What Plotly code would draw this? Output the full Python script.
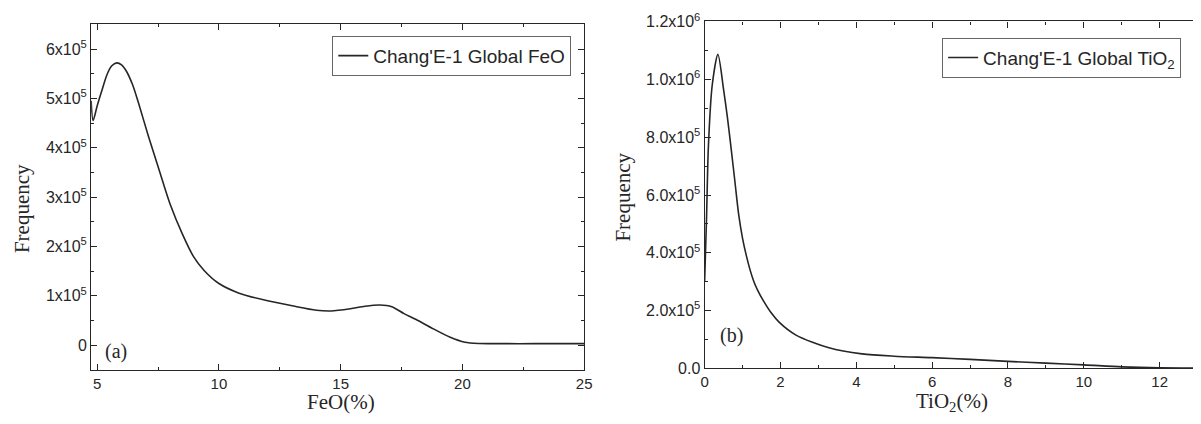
import plotly.graph_objects as go

# FeO abundance histogram (Chang'E-1 global)
feo_pct = [4.75, 4.83, 5.0, 5.23, 5.4, 5.6, 5.8, 6.0, 6.2, 6.45, 6.7, 7.1, 7.55, 8.0,
           8.5, 8.95, 9.4, 10.0, 10.8, 12.0, 13.0, 14.0, 14.6, 15.4, 16.0, 16.6,
           17.1, 17.6, 18.1, 18.7, 19.5, 20.1, 20.7, 21.5, 23.0, 25.0]
feo_freq = [495000, 455000, 485000, 522000, 548000, 566000, 572000, 568000, 555000,
            528000, 490000, 424000, 354000, 285000, 225000, 180000, 151000, 125000,
            106000, 90000, 80000, 71000, 69500, 74000, 79000, 81500, 78000, 64000,
            52000, 36000, 16000, 6000, 3500, 3200, 3200, 3200]

# TiO2 abundance histogram (Chang'E-1 global)
tio2_pct = [0.0, 0.05, 0.1, 0.2, 0.35, 0.5, 0.6, 0.7, 0.8, 0.9, 1.0, 1.1, 1.2, 1.3,
            1.4, 1.54, 1.75, 1.97, 2.41, 3.28, 4.15, 5.0, 6.0, 7.0, 8.0, 9.0, 10.0,
            11.0, 12.0, 12.9]
tio2_freq = [300000, 520000, 770000, 980000, 1087000, 965000, 870000, 760000, 645000,
             530000, 450000, 390000, 340000, 300000, 270000, 236000, 193000, 159000,
             115000, 71000, 50000, 42000, 37000, 31000, 24000, 18000, 12000, 5000,
             1500, 1000]

feo_yticks = [0, 100000, 200000, 300000, 400000, 500000, 600000]
feo_ylabels = ["0", "1x10<sup>5</sup>", "2x10<sup>5</sup>", "3x10<sup>5</sup>",
               "4x10<sup>5</sup>", "5x10<sup>5</sup>", "6x10<sup>5</sup>"]
tio2_yticks = [0, 200000, 400000, 600000, 800000, 1000000, 1200000]
tio2_ylabels = ["0.0", "2.0x10<sup>5</sup>", "4.0x10<sup>5</sup>", "6.0x10<sup>5</sup>",
                "8.0x10<sup>5</sup>", "1.0x10<sup>6</sup>", "1.2x10<sup>6</sup>"]

W, H = 1201, 424
INK = "#262626"
SANS = "Liberation Sans, Arial, sans-serif"
SERIF = "Liberation Serif, Times New Roman, serif"


def px(x):
    return x / W


def py(y):
    return 1 - y / H


fig = go.Figure()
fig.add_trace(go.Scatter(
    x=feo_pct, y=feo_freq, mode="lines", name="Chang'E-1 Global FeO",
    line=dict(color=INK, width=1.6, shape="spline", smoothing=0.8),
    xaxis="x", yaxis="y", legend="legend"))
fig.add_trace(go.Scatter(
    x=tio2_pct, y=tio2_freq, mode="lines", name="Chang'E-1 Global TiO<sub>2</sub>",
    line=dict(color=INK, width=1.6, shape="spline", smoothing=0.8),
    xaxis="x2", yaxis="y2", legend="legend2"))

axis_common = dict(showline=True, linecolor=INK, linewidth=1.2, ticks="inside",
                   tickcolor=INK, ticklen=6, tickwidth=1.2, showgrid=False,
                   zeroline=False)
xtick_font = dict(family=SANS, size=15, color=INK)
ytick_font = dict(family=SANS, size=16, color=INK)

fig.update_layout(
    width=W, height=H, margin=dict(l=0, r=0, t=0, b=0),
    paper_bgcolor="white", plot_bgcolor="white",
    xaxis=dict(domain=[px(88), px(586)], range=[4.75, 25], anchor="y",
               tickvals=[5, 10, 15, 20, 25], mirror="ticks", tickfont=xtick_font,
               minor=dict(ticks="inside", ticklen=3, tickcolor=INK,
                          tick0=5, dtick=2.5), **axis_common),
    yaxis=dict(domain=[py(376.7), py(14)], range=[-50000, 650000], anchor="x",
               tickmode="array", tickvals=feo_yticks, ticktext=feo_ylabels,
               mirror="ticks", tickfont=ytick_font,
               minor=dict(ticks="inside", ticklen=3, tickcolor=INK,
                          tick0=-50000, dtick=50000), **axis_common),
    xaxis2=dict(domain=[px(707.7), 1.0], range=[0, 12.88], anchor="y2",
                tickvals=[0, 2, 4, 6, 8, 10, 12], mirror="ticks", tickfont=xtick_font,
                minor=dict(ticks="inside", ticklen=3, tickcolor=INK,
                           tick0=0, dtick=1), **axis_common),
    yaxis2=dict(domain=[py(375), py(11)], range=[0, 1200800], anchor="x2",
                tickmode="array", tickvals=tio2_yticks, ticktext=tio2_ylabels,
                mirror=False, tickfont=ytick_font,
                minor=dict(ticks="inside", ticklen=3, tickcolor=INK,
                           tick0=0, dtick=100000), **axis_common),
    legend=dict(x=px(573), xanchor="right", y=py(26), yanchor="top",
                bordercolor="#666", borderwidth=1, bgcolor="rgba(255,255,255,0)",
                font=dict(family=SANS, size=19, color=INK)),
    legend2=dict(x=px(1189), xanchor="right", y=py(28), yanchor="top",
                 bordercolor="#666", borderwidth=1, bgcolor="rgba(255,255,255,0)",
                 font=dict(family=SANS, size=19, color=INK)),
    showlegend=True,
)

title_font = dict(family=SERIF, size=21, color=INK)
annotations = [
    dict(text="Frequency", x=px(18), y=py(207), textangle=-90, font=title_font),
    dict(text="FeO(%)", x=px(340), y=py(410), font=title_font),
    dict(text="Frequency", x=px(625), y=py(195), textangle=-90, font=title_font),
    dict(text="TiO<sub>2</sub>(%)", x=px(958), y=py(410), font=title_font),
    dict(text="(a)", x=px(113), y=py(357), font=dict(family=SERIF, size=20, color=INK)),
    dict(text="(b)", x=px(735), y=py(341), font=dict(family=SERIF, size=20, color=INK)),
]
for a in annotations:
    a.update(xref="paper", yref="paper", showarrow=False,
             xanchor="center", yanchor="middle")
fig.update_layout(annotations=annotations)

fig.write_html("out.html")
